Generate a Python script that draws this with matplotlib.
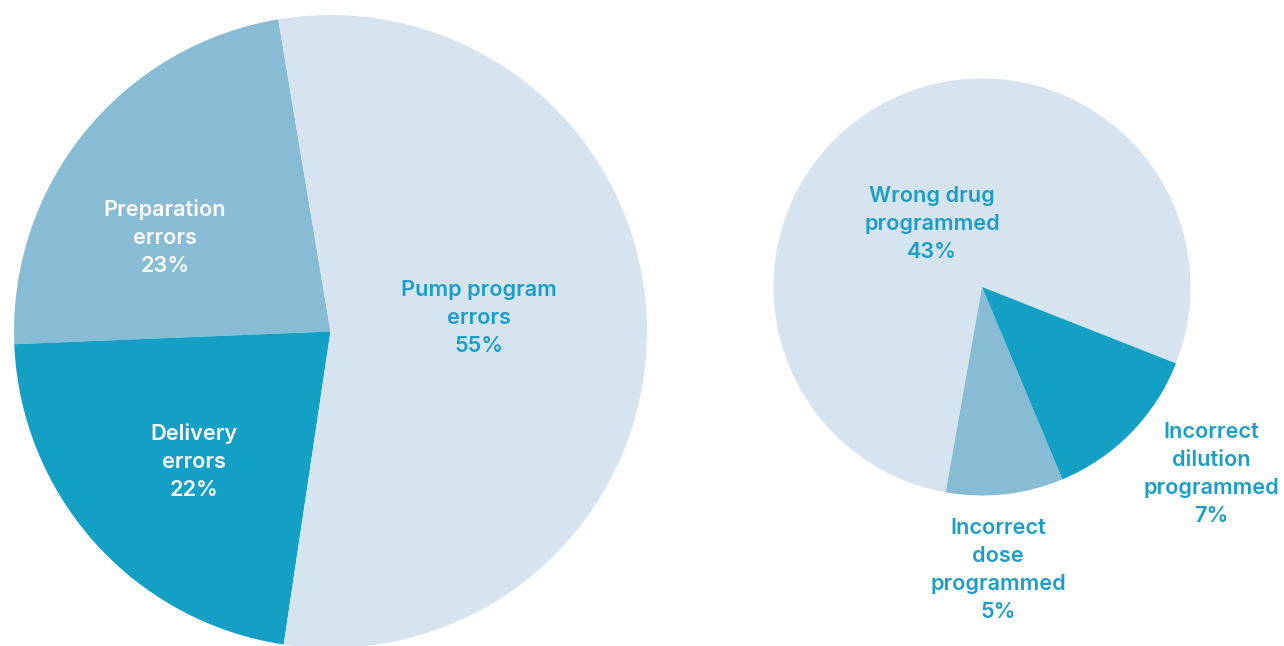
import matplotlib
matplotlib.use("Agg")
import matplotlib.pyplot as plt

# Data
main_labels = ["Preparation\nerrors", "Delivery\nerrors", "Pump program\nerrors"]
main_values = [23, 22, 55]
sub_labels = ["Wrong drug\nprogrammed", "Incorrect\ndose\nprogrammed", "Incorrect\ndilution\nprogrammed"]
sub_values = [43, 5, 7]

LIGHT = "#D6E4EF"
MID = "#88BBD4"
DARK = "#149FC5"
TEAL = "#1A9EC6"

W, H = 1284, 646
fig = plt.figure(figsize=(W / 100, H / 100), dpi=100)
ax = fig.add_axes([0, 0, 1, 1])

def py(y):
    return H - y

# Left pie
ax.pie(main_values, colors=[MID, DARK, LIGHT], startangle=99.5, counterclock=True,
       center=(330.5, py(331.5)), radius=316.5, frame=True,
       wedgeprops=dict(linewidth=0))
# Right pie
ax.pie(sub_values, colors=[LIGHT, MID, DARK], startangle=-21.5, counterclock=True,
       center=(982, py(287)), radius=208.5, frame=True,
       wedgeprops=dict(linewidth=0))

ax.set_xlim(0, W)
ax.set_ylim(0, H)
ax.set_aspect("equal")
ax.axis("off")

font = dict(family=["Inter", "DejaVu Sans"], fontsize=15.6, fontweight="semibold",
            ha="center", va="center", linespacing=1.5)

def lab(x, y, name, v, color):
    ax.text(x, py(y), f"{name}\n{v}%", color=color, **font)

lab(165, 238, main_labels[0], main_values[0], "white")
lab(194, 461, main_labels[1], main_values[1], "white")
lab(479, 318, main_labels[2], main_values[2], TEAL)
lab(932, 224, sub_labels[0], sub_values[0], TEAL)
lab(998, 570, sub_labels[1], sub_values[1], TEAL)
lab(1211, 474, sub_labels[2], sub_values[2], TEAL)

fig.savefig("out.png", dpi=100)
